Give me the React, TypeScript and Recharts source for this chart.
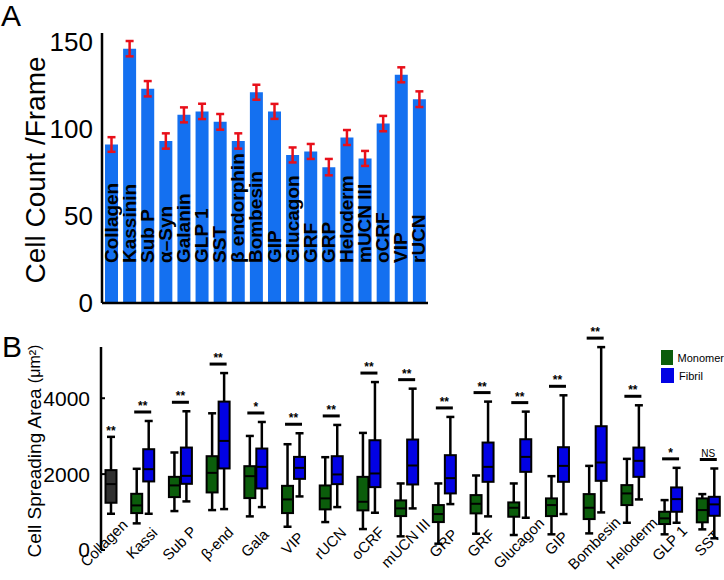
import {
  Bar,
  BarChart,
  ComposedChart,
  ErrorBar,
  LabelList,
  Legend,
  XAxis,
  YAxis,
} from 'recharts'

// Panel A: cell count per frame
const countLabels = [
  'Collagen', 'Kassinin', 'Sub P', 'α–Syn', 'Galanin', 'GLP 1', 'SST', 'β endorphin', 'Bombesin',
  'GIP', 'Glucagon', 'GRF', 'GRP', 'Heloderm', 'mUCN III', 'oCRF', 'VIP', 'rUCN',
]
const countValues = [91, 146, 123, 93, 108, 110, 104, 93, 121, 110, 85, 87, 78, 95, 83, 103, 131, 117]
const countErrors = [4.2, 4.4, 4.4, 4.4, 4.3, 4.4, 4.5, 4.4, 4.3, 4.3, 4.3, 4.3, 4.7, 4.3, 4.3, 4.4, 4.3, 4.5]
const countTicks = [0, 50, 100, 150]

// Panel B: cell spreading area, [min, q1, median, q3, max]
const boxCategories = [
  'Collagen', 'Kassi', 'Sub P', 'β-end', 'Gala', 'VIP', 'rUCN', 'oCRF', 'mUCN III',
  'GRP', 'GRF', 'Glucagon', 'GIP', 'Bombesin', 'Heloderm', 'GLP 1', 'SST',
]
const collagenBox = [955, 1245, 1737, 2105, 2982]
const monomerBoxes: (number[] | null)[] = [
  null,
  [702, 973, 1175, 1481, 2140],
  [1026, 1394, 1702, 1928, 2570],
  [1052, 1517, 2033, 2472, 3603],
  [886, 1368, 1946, 2209, 3006],
  [613, 973, 1333, 1691, 2788],
  [736, 1070, 1360, 1701, 2446],
  [552, 1044, 1271, 1928, 3086],
  [360, 894, 1096, 1307, 1754],
  [166, 736, 947, 1184, 1754],
  [429, 965, 1218, 1447, 1964],
  [395, 877, 1113, 1254, 1754],
  [413, 894, 1184, 1360, 1946],
  [438, 815, 1113, 1473, 2217],
  [718, 1184, 1491, 1710, 2402],
  [413, 684, 834, 1008, 1315],
  [544, 729, 1052, 1360, 1473],
]
const fibrilBoxes: (number[] | null)[] = [
  null,
  [955, 1807, 2130, 2656, 3400],
  [1281, 1744, 1954, 2700, 3656],
  [1078, 2149, 2875, 3911, 4663],
  [1131, 1622, 2191, 2674, 3374],
  [1412, 1875, 2165, 2454, 3077],
  [1131, 1736, 1991, 2472, 3296],
  [982, 1657, 2017, 2893, 4426],
  [1096, 1727, 2227, 2911, 4252],
  [1210, 1491, 1894, 2499, 3507],
  [886, 1797, 2191, 2832, 3911],
  [850, 2060, 2454, 2919, 3647],
  [947, 1797, 2217, 2709, 4077],
  [991, 1823, 2306, 3262, 5347],
  [1333, 1928, 2349, 2700, 3814],
  [718, 1008, 1341, 1649, 2165],
  [308, 902, 1202, 1402, 2148],
]
const significance = ['**', '**', '**', '**', '*', '**', '**', '**', '**', '**', '**', '**', '**', '**', '**', '*', 'NS']
const areaTicks = [0, 2000, 4000]
const legendNames = ['Monomer', 'Fibril']

const BAR_BLUE = '#1470f0'
const ERR_RED = '#e8101a'
const GREEN = '#0b5d0b'
const BLUE = '#0202e4'
const CONTROL = '#303030'
const FONT = 'Liberation Sans, Arial, sans-serif'

const countData = countLabels.map((name, i) => ({ name, count: countValues[i], err: countErrors[i] }))

const boxData = boxCategories.map((name, i) => {
  const control = i === 0 ? collagenBox : null
  const all = [control, monomerBoxes[i], fibrilBoxes[i]].filter(Boolean) as number[][]
  const lo = Math.min(...all.map((s) => s[0]))
  const hi = Math.max(...all.map((s) => s[4]))
  return { name, control, monomer: monomerBoxes[i], fibril: fibrilBoxes[i], sig: significance[i], range: [lo, hi] }
})

function InsideLabel(props: any) {
  const { x, y, width, height, value } = props
  const tx = x + width / 2 + 6
  const ty = y + height - 40
  return (
    <text x={tx} y={ty} transform={`rotate(-90, ${tx}, ${ty})`} fontSize={19} fontWeight="bold" fill="#000">
      {value}
    </text>
  )
}

function AngledTick(props: any) {
  const { x, y, payload } = props
  const tx = x - 1
  const ty = y - 9
  return (
    <text x={tx} y={ty} textAnchor="middle" dominantBaseline="central" transform={`rotate(-45, ${tx}, ${ty})`} fontSize={15} fill="#000">
      {payload.value}
    </text>
  )
}

function BoxShape(props: any) {
  const { x, y, width, height, payload } = props
  const [lo, hi] = payload.range
  const top = Math.min(y, y + height)
  const span = Math.abs(height)
  const py = (v: number) => top + (span * (hi - v)) / (hi - lo)
  const cx = x + width / 2
  const boxes: { s: number[]; c: number; fill: string }[] = []
  if (payload.control) boxes.push({ s: payload.control, c: cx + 6, fill: CONTROL })
  if (payload.monomer) boxes.push({ s: payload.monomer, c: cx - 6, fill: GREEN })
  if (payload.fibril) boxes.push({ s: payload.fibril, c: cx + 6, fill: BLUE })
  const bw = 11
  const sigY = py(hi) - 9
  return (
    <g>
      {boxes.map((b, k) => (
        <g key={k} stroke="#000" strokeWidth={2.5}>
          <line x1={b.c} x2={b.c} y1={py(b.s[0])} y2={py(b.s[1])} />
          <line x1={b.c} x2={b.c} y1={py(b.s[3])} y2={py(b.s[4])} />
          <line x1={b.c - 4} x2={b.c + 4} y1={py(b.s[0])} y2={py(b.s[0])} />
          <line x1={b.c - 4} x2={b.c + 4} y1={py(b.s[4])} y2={py(b.s[4])} />
          <rect x={b.c - bw / 2} y={py(b.s[3])} width={bw} height={py(b.s[1]) - py(b.s[3])} fill={b.fill} strokeWidth={2} />
          <line x1={b.c - bw / 2} x2={b.c + bw / 2} y1={py(b.s[2])} y2={py(b.s[2])} strokeWidth={2} />
        </g>
      ))}
      {payload.control ? (
        <text x={cx + 6} y={py(hi) - 2} textAnchor="middle" fontSize={12} fontWeight="bold" fill="#000">
          {payload.sig}
        </text>
      ) : (
        <g>
          <line x1={cx - 8.5} x2={cx + 8.5} y1={sigY} y2={sigY} stroke="#000" strokeWidth={3} />
          <text x={cx} y={sigY - 2} textAnchor="middle" fontSize={payload.sig === 'NS' ? 10 : 12} fontWeight={payload.sig === 'NS' ? 'normal' : 'bold'} fill="#000">
            {payload.sig}
          </text>
        </g>
      )}
    </g>
  )
}

function BoxLegend() {
  const colors = [GREEN, BLUE]
  return (
    <div style={{ fontFamily: FONT }}>
      {legendNames.map((n, i) => (
        <div key={n} style={{ display: 'flex', alignItems: 'center', height: 15, marginBottom: 3, whiteSpace: 'nowrap' }}>
          <span style={{ display: 'inline-block', width: 13, height: 15, background: colors[i] }} />
          <span style={{ marginLeft: 5, fontSize: 11, color: '#000' }}>{n}</span>
        </div>
      ))}
    </div>
  )
}

export default function App() {
  return (
    <div style={{ position: 'absolute', left: 0, top: 0, width: 724, height: 580, fontFamily: FONT, background: '#fff' }}>
      <div style={{ position: 'absolute', left: 0, top: 0 }}>
        <BarChart width={724} height={320} data={countData} margin={{ top: 33, right: 296, bottom: 12, left: 0 }}>
          <XAxis dataKey="name" tick={false} tickLine={false} height={5} axisLine={{ stroke: '#000', strokeWidth: 2.5 }} />
          <YAxis
            domain={[0, 155]}
            ticks={countTicks}
            width={102}
            tickLine={false}
            tickSize={0}
            tickMargin={9}
            axisLine={{ stroke: '#000', strokeWidth: 2.5 }}
            tick={{ fontSize: 26, fill: '#000' }}
            label={() => (
              <text x={35} y={170} transform="rotate(-90, 35, 170)" textAnchor="middle" dominantBaseline="central" fontSize={28} fill="#000">
                Cell Count /Frame
              </text>
            )}
          />
          <Bar dataKey="count" fill={BAR_BLUE} barSize={13} isAnimationActive={false}>
            <ErrorBar dataKey="err" stroke={ERR_RED} strokeWidth={2.5} width={4} />
            <LabelList dataKey="name" content={InsideLabel} />
          </Bar>
        </BarChart>
      </div>

      <div style={{ position: 'absolute', left: 0, top: 320 }}>
        <ComposedChart width={724} height={260} data={boxData} margin={{ top: 27, right: 0, bottom: 0, left: 0 }}>
          <XAxis
            dataKey="name"
            axisLine={false}
            tickLine={false}
            tickSize={0}
            height={30}
            interval={0}
            padding={{ left: -15, right: -3 }}
            tick={AngledTick}
          />
          <YAxis
            domain={[0, 5350]}
            ticks={areaTicks}
            width={101}
            tickSize={-4}
            tickMargin={15}
            tickLine={{ stroke: '#000', strokeWidth: 2 }}
            axisLine={{ stroke: '#000', strokeWidth: 2.5 }}
            tick={{ fontSize: 21, fill: '#000' }}
            label={() => (
              <text x={34} y={131} transform="rotate(-90, 34, 131)" textAnchor="middle" dominantBaseline="central" fontSize={19} fill="#000">
                <tspan>Cell Spreading Area </tspan>
                <tspan fontSize={16}>(μm²)</tspan>
              </text>
            )}
          />
          <Legend layout="vertical" align="center" verticalAlign="middle" wrapperStyle={{ top: 30, left: 661, width: 63 }} content={BoxLegend} />
          <Bar dataKey="range" barSize={26} shape={BoxShape} isAnimationActive={false} legendType="none" />
        </ComposedChart>
      </div>

      <div style={{ position: 'absolute', left: 1, top: 1, fontSize: 30, lineHeight: '30px', color: '#000', zIndex: 2 }}>A</div>
      <div style={{ position: 'absolute', left: 2, top: 332, fontSize: 30, lineHeight: '30px', color: '#000', zIndex: 2 }}>B</div>
    </div>
  )
}
